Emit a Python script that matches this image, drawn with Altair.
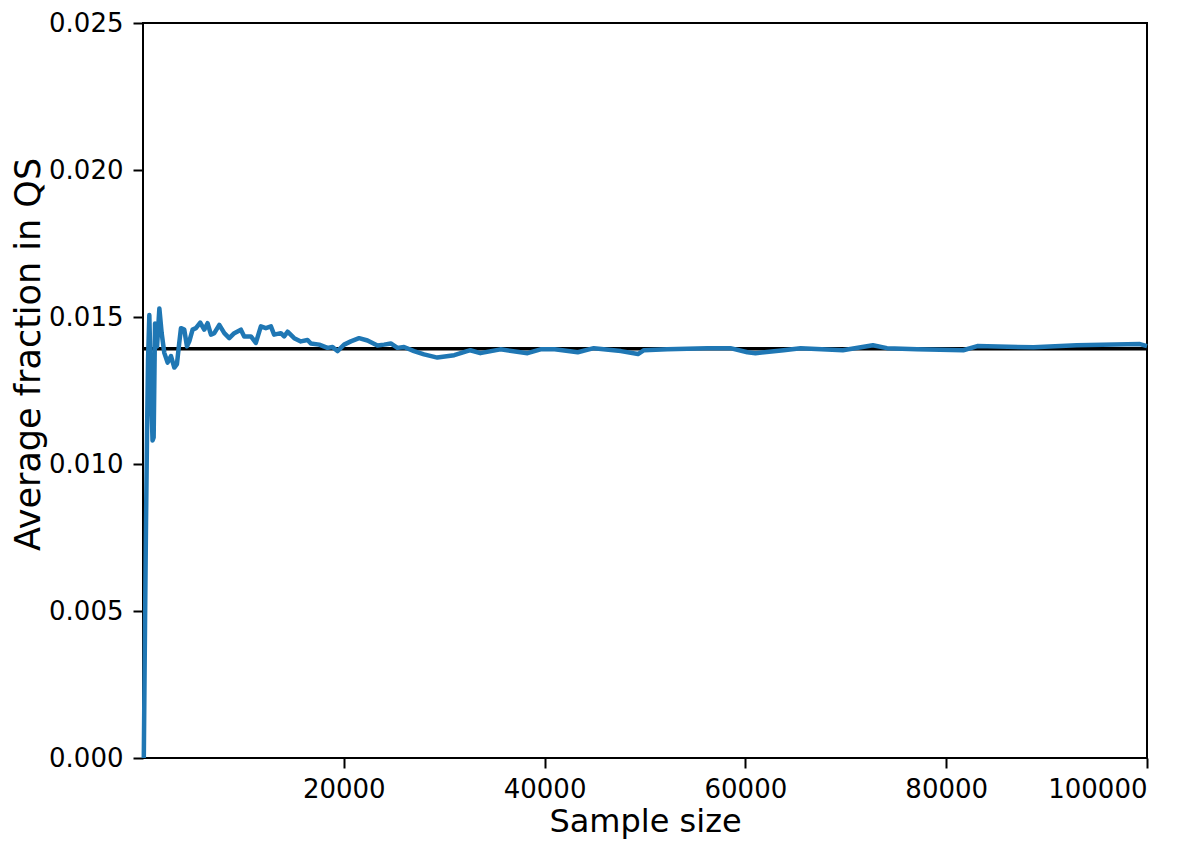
import altair as alt
import pandas as pd

sample_size = [80, 200, 300, 400, 500, 630, 800, 950, 1060, 1200, 1400, 1630, 1860,
               2120, 2450, 2790, 3120, 3380, 3610, 3780, 4110, 4380, 4610, 4940, 5270,
               5700, 6100, 6430, 6770, 7100, 7600, 8100, 8590, 9090, 9750, 10080,
               10750, 11240, 11740, 12240, 12740, 13060, 13730, 14060, 14400, 15060,
               15720, 16390, 16720, 17550, 18380, 18880, 19370, 20030, 20700, 21520,
               22360, 23350, 24010, 24680, 25340, 26000, 26990, 27990, 29320, 31000,
               32600, 33600, 35600, 38300, 39600, 41000, 43300, 44900, 47600, 49300,
               49900, 52200, 56200, 58500, 60200, 61000, 63800, 65500, 69700, 72700,
               74100, 77100, 81700, 83100, 88700, 93000, 99300, 100000]
avg_fraction = [0.0, 0.0045, 0.0080, 0.0110, 0.0135, 0.01507, 0.0125, 0.0108, 0.0109,
                0.01478, 0.0140, 0.01529, 0.01445, 0.01378, 0.01345, 0.01367, 0.01328,
                0.0134, 0.01412, 0.01462, 0.01457, 0.0140, 0.01417, 0.01457, 0.01462,
                0.01481, 0.01457, 0.01479, 0.0144, 0.01445, 0.01473, 0.01445, 0.01428,
                0.01445, 0.01457, 0.01434, 0.01434, 0.01412, 0.01468, 0.01462, 0.01468,
                0.0144, 0.01445, 0.01434, 0.0145, 0.01428, 0.01417, 0.01422, 0.0141,
                0.01406, 0.01395, 0.01398, 0.01384, 0.01406, 0.01417, 0.01428, 0.0142,
                0.01403, 0.01406, 0.0141, 0.01395, 0.01398, 0.01384, 0.01373, 0.01362,
                0.0137, 0.01387, 0.01377, 0.0139, 0.01377, 0.0139, 0.0139, 0.0138,
                0.01394, 0.01384, 0.01374, 0.01387, 0.0139, 0.01394, 0.01394, 0.0138,
                0.01377, 0.01387, 0.01394, 0.01387, 0.01404, 0.01394, 0.0139, 0.01387,
                0.01401, 0.01397, 0.01404, 0.01408, 0.01401]
true_value = [0.01392]

x_ticks = [20000, 40000, 60000, 80000, 100000]
y_ticks = [0.0, 0.005, 0.010, 0.015, 0.020, 0.025]

df = pd.DataFrame({"n": sample_size, "frac": avg_fraction})
ref = pd.DataFrame({"v": true_value})

font = "DejaVu Sans"

x_enc = alt.X("n:Q", scale=alt.Scale(domain=[0, 100000], nice=False, zero=False),
              axis=alt.Axis(values=x_ticks, format="d", title="Sample size",
                            labelFontSize=26, titleFontSize=32, titleFontWeight="normal",
                            tickSize=10, tickWidth=2, tickColor="black",
                            labelPadding=8, domain=False, grid=False,
                            labelColor="black", titleColor="black",
                            titleY=48, titleBaseline="top"))
y_enc = alt.Y("frac:Q", scale=alt.Scale(domain=[0, 0.025], nice=False),
              axis=alt.Axis(values=y_ticks, format=".3f", title="Average fraction in QS",
                            labelFontSize=26, titleFontSize=35, titleFontWeight="normal",
                            tickSize=10, tickWidth=2, tickColor="black",
                            labelPadding=10, domain=False, grid=False,
                            labelColor="black", titleColor="black",
                            titleX=-97, titleY=331, titleBaseline="bottom"))

rule = alt.Chart(ref).mark_rule(color="black", strokeWidth=3.5).encode(
    y=alt.Y("v:Q", scale=alt.Scale(domain=[0, 0.025], nice=False))
)
line = alt.Chart(df).mark_line(color="#1f77b4", strokeWidth=4.5,
                               strokeJoin="round").encode(x=x_enc, y=y_enc)

chart = alt.layer(rule, line).properties(
    width=1004, height=735,
    autosize=alt.AutoSizeParams(type="none"),
    padding={"left": 135, "top": 15, "right": 40, "bottom": 84},
).configure_view(stroke="black", strokeWidth=2).configure_axis(
    labelFont=font, titleFont=font
)

chart.save("out.html", embed_options={"renderer": "svg", "actions": False})
